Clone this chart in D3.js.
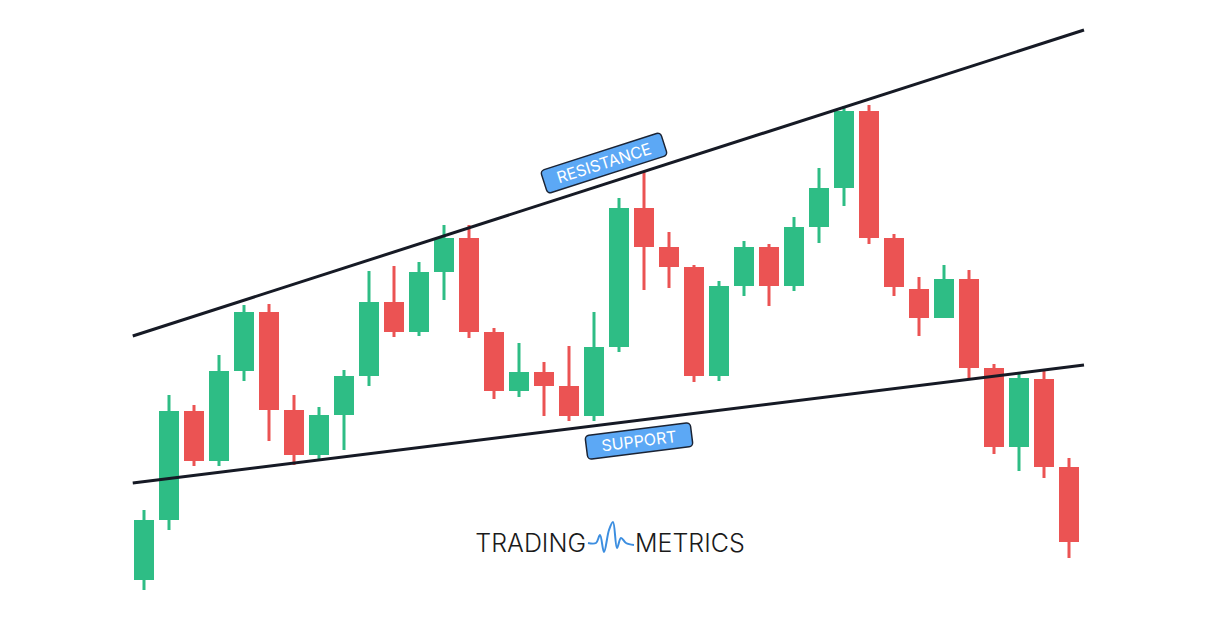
<!DOCTYPE html><html><head><meta charset="utf-8">
<script src="https://cdn.jsdelivr.net/npm/d3@7"></script>
<style>body{margin:0;background:#fff}</style></head><body>
<script>
// prices in arbitrary units (higher = up)
const idx = d3.range(38);
const open  = [39,99,208,158,248,307,209,164,204,243,317,287,347,381,287,228,247,233,203,272,411,372,352,243,333,372,333,392,431,508,381,330,301,340,251,172,240,152];
const close = [99,208,158,248,307,209,164,204,243,317,287,347,381,287,228,247,233,203,272,411,372,352,243,333,372,333,392,431,508,381,332,301,340,251,172,241,152,77];
const high  = [109,224,214,264,314,315,224,212,249,348,353,357,394,394,291,276,257,273,307,421,447,387,354,338,378,375,402,451,513,514,385,342,354,349,255,245,249,161];
const low   = [29,89,153,153,238,178,154,158,169,233,282,283,319,281,220,222,203,198,198,267,329,331,237,238,323,313,328,376,413,375,323,283,301,241,165,148,141,61];
const resPts = [[-0.45,283],[37.6,589]];
const supPts = [[-0.45,136],[37.6,254]];

const svg = d3.select("body").append("svg").attr("width",1217).attr("height",619);
const x = d3.scaleLinear().domain([0,37]).range([144,1069]);
const y = d3.scaleLinear().domain([0,619]).range([619,0]);
const green="#2ebd85", red="#eb5353";
const g = svg.append("g");
idx.forEach(i=>{
  const c = close[i]>=open[i]?green:red;
  g.append("line").attr("x1",x(i)).attr("x2",x(i)).attr("y1",y(high[i])).attr("y2",y(low[i])).attr("stroke",c).attr("stroke-width",3);
  g.append("rect").attr("x",x(i)-10).attr("width",20).attr("y",y(Math.max(open[i],close[i]))).attr("height",Math.abs(open[i]-close[i])).attr("fill",c);
});
[resPts,supPts].forEach(p=>svg.append("line").attr("x1",x(p[0][0])).attr("y1",y(p[0][1])).attr("x2",x(p[1][0])).attr("y2",y(p[1][1])).attr("stroke","#161a25").attr("stroke-width",3));
function label(t,cx,cy,ang,w){
  const gg=svg.append("g").attr("transform",`translate(${cx},${cy}) rotate(${ang})`);
  gg.append("rect").attr("x",-w/2).attr("y",-12).attr("width",w).attr("height",24).attr("rx",4).attr("fill","#5ca8f5").attr("stroke","#1b2333").attr("stroke-width",1.5);
  gg.append("text").attr("text-anchor","middle").attr("dy","0.36em").attr("fill","#fff").attr("font-family","Inter,sans-serif").attr("font-size",16).text(t);
}
label("RESISTANCE",604,163,-17.8,126);
label("SUPPORT",639,441,-7.1,106);
const lg=svg.append("g").attr("font-family","Inter,sans-serif").attr("font-weight",300).attr("font-size",25).attr("fill","#1a1a1a");
lg.append("text").attr("x",586).attr("y",552).attr("text-anchor","end").text("TRADING");
lg.append("text").attr("x",635).attr("y",552).text("METRICS");
const wave=[[588,543],[596,543],[600,535],[604,552],[609,530],[613,522],[617,548],[621,538],[626,543],[634,545]];
svg.append("path").attr("d",d3.line().curve(d3.curveCatmullRom)(wave)).attr("fill","none").attr("stroke","#3c8ee0").attr("stroke-width",2);
</script></body></html>
